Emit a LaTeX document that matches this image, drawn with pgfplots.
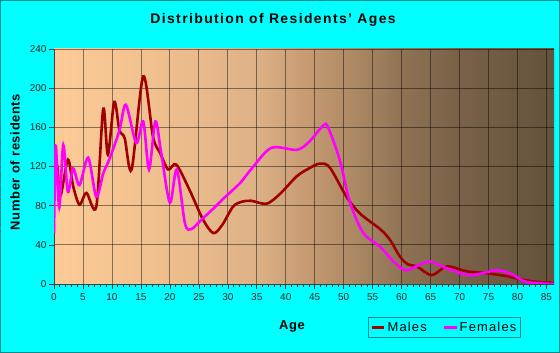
\documentclass[border=0pt]{standalone}
\usepackage{fontspec}
\setmainfont{Liberation Sans}
\usepackage{pgfplots}
\pgfplotsset{compat=1.18}
\definecolor{bgcyan}{RGB}{0,255,255}
\definecolor{frameteal}{RGB}{0,139,139}
\definecolor{malered}{RGB}{160,0,0}
\definecolor{femalemag}{RGB}{255,0,255}
\pgfdeclarehorizontalshading{agebg}{100bp}{%
rgb(0bp)=(0.988,0.796,0.596);
rgb(25bp)=(0.988,0.796,0.596);
rgb(35bp)=(0.941,0.753,0.557);
rgb(45bp)=(0.871,0.698,0.529);
rgb(50bp)=(0.784,0.608,0.451);
rgb(55bp)=(0.675,0.537,0.392);
rgb(60bp)=(0.557,0.447,0.329);
rgb(65bp)=(0.478,0.384,0.282);
rgb(75bp)=(0.392,0.322,0.235);
rgb(100bp)=(0.392,0.322,0.235)}
\begin{document}
\begin{tikzpicture}
\fill[bgcyan] (0,0) rectangle (560bp,353bp);
\draw[frameteal, line width=1bp] (0.5bp,0.5bp) rectangle (559.5bp,352.5bp);
\shade[shading=agebg] (54bp,69bp) rectangle (554bp,304bp);
\begin{axis}[
  at={(54bp,69bp)}, anchor=south west,
  scale only axis, width=500bp, height=235bp,
  xmin=0, xmax=86.3, ymin=0, ymax=240,
  xtick={0,5,...,85}, minor x tick num=4,
  ytick={0,40,...,240},
  axis x line=bottom, axis y line=left,
  axis line style={-, black!75, line width=0.8bp},
  grid=major,
  major grid style={black, opacity=0.45, line width=0.8bp},
  tick align=outside,
  tick style={black!80, line width=0.6bp},
  major tick length=5bp, minor tick length=3bp,
  ticklabel style={font=\fontsize{10}{12}\selectfont, text=black!85},
  /pgf/number format/assume math mode=true,
  xticklabel style={yshift=-1bp},
  yticklabel style={xshift=1bp},
  legend style={at={(0.781,-0.185)}, anchor=center, legend columns=2,
    draw=frameteal, fill=none, line width=0.8bp,
    font=\fontsize{13}{15}\selectfont\addfontfeature{LetterSpace=9}, inner sep=2.5bp,
    /tikz/every even column/.append style={column sep=14bp}},
  legend image code/.code={\draw[#1, line width=2.2bp] (0,0) -- (0.45cm,0);},
]
\addplot[color=malered, line width=2.6bp, smooth, tension=0.5] coordinates {
(0,85) (0.5,122) (1.1,90) (2.4,127) (3.3,100) (4.4,81) (5.6,93) (7.3,79)
(8.5,179) (9.3,132) (10.4,186) (11.3,157) (12.2,149) (13.4,117) (15.4,212)
(17.1,150) (18.3,134) (19.7,117) (21.1,122) (23.4,96) (25.7,66) (27.5,52)
(29,60) (30.9,79) (32.4,84) (34,85) (36.7,82) (39,92) (41.9,110) (44,118)
(45.9,123) (47.6,119) (50.5,89) (52.8,72) (56.3,56) (58,45) (59.7,28)
(61.1,20) (62.6,18) (65.2,9) (67.8,18) (71.2,13) (74.7,11) (78.1,8)
(82.2,3) (86.3,1)};
\addlegendentry{Males}
\addplot[color=femalemag, line width=2.6bp, smooth, tension=0.5] coordinates {
(0,52) (0.3,141) (0.9,78) (1.6,142) (2.4,94) (3.3,118) (4.4,101) (5.9,129)
(7.3,89) (8.5,113) (9.6,128) (11.3,157) (12.4,183) (14.2,144) (15.4,166)
(16.4,117) (17.5,166) (18.5,134) (20,83) (21.2,117) (22.6,62) (23.7,56)
(25.5,66) (27.5,77) (29.2,87) (32.1,103) (34,117) (37.5,139) (41.9,137)
(44,145) (46.5,162) (47.3,160) (49.3,127) (51.1,83) (53.4,52) (56.3,38)
(58.6,23) (60.6,14) (62.5,18) (64.9,23) (67.8,16) (71.8,9) (76.4,14)
(79,10) (81.6,2) (86.3,0)};
\addlegendentry{Females}
\end{axis}
\node[font=\bfseries\fontsize{14}{16}\selectfont\addfontfeature{LetterSpace=10}] at (273bp,333bp) {Distribution of Residents' Ages};
\node[font=\bfseries\fontsize{13}{15}\selectfont\addfontfeature{LetterSpace=5}] at (292bp,27bp) {Age};
\node[font=\bfseries\fontsize{13}{15}\selectfont\addfontfeature{LetterSpace=5}, rotate=90] at (15bp,191bp) {Number of residents};
\end{tikzpicture}
\end{document}
